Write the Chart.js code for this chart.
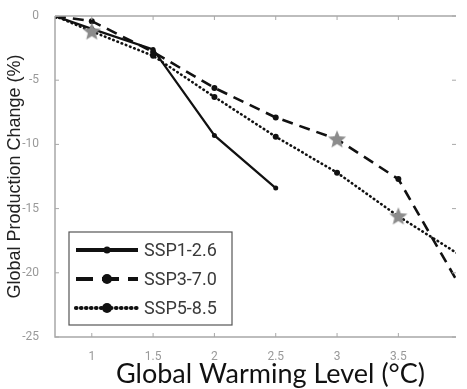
<!DOCTYPE html>
<html><head><meta charset="utf-8">
<script src="https://cdn.jsdelivr.net/npm/chart.js@4.4.1/dist/chart.umd.min.js"></script>
<style>html,body{margin:0;padding:0;background:#fff}</style>
</head><body>
<canvas id="c" width="467" height="389"></canvas>
<script>
// ---- data ----
const warmingLevels = [0.7, 1, 1.5, 2, 2.5, 3, 3.5, 4];
const ssp126 = [0, -1.0, -2.6, -9.3, -13.4, null, null, null];
const ssp370 = [0, -0.4, -2.8, -5.6, -7.9, -9.6, -12.7, -21.0];
const ssp585 = [0, -1.2, -3.1, -6.3, -9.4, -12.2, -15.6, -18.6];
const starX = [1, 3, 3.5];
const starY = [-1.2, -9.6, -15.6];
const xTicks = [1, 1.5, 2, 2.5, 3, 3.5];
const yTicks = [0, -5, -10, -15, -20, -25];
const seriesNames = ['SSP1-2.6', 'SSP3-7.0', 'SSP5-8.5'];
const xTitle = 'Global Warming Level (°C)';
const yTitle = 'Global Production Change (%)';

function pts(xs, ys){ const o=[]; xs.forEach((x,i)=>{ if(ys[i]!==null) o.push({x:x,y:ys[i]}); }); return o; }

// gray filled star marker
const starImg = document.createElement('canvas');
starImg.width = 20; starImg.height = 20;
(function(){
  const g = starImg.getContext('2d');
  g.fillStyle = '#8c8c8c';
  g.beginPath();
  for (let i=0;i<10;i++){
    const r = i%2===0 ? 9.5 : 4.2;
    const a = -Math.PI/2 + i*Math.PI/5;
    const px = 10 + r*Math.cos(a), py = 10.5 + r*Math.sin(a);
    if(i===0) g.moveTo(px,py); else g.lineTo(px,py);
  }
  g.closePath(); g.fill();
})();

const lineStyles = [
  {dash: [], width: 2.2, cap: 'butt', r: 2.5},
  {dash: [11, 7], width: 2.6, cap: 'butt', r: 3},
  {dash: [0.5, 4], width: 2.6, cap: 'round', r: 3}
];
const seriesVals = [ssp126, ssp370, ssp585];

const datasets = seriesVals.map((vals, i) => ({
  label: seriesNames[i],
  data: pts(warmingLevels, vals),
  borderColor: '#111', backgroundColor: '#111',
  borderWidth: lineStyles[i].width,
  borderDash: lineStyles[i].dash,
  borderCapStyle: lineStyles[i].cap,
  pointRadius: lineStyles[i].r, pointHoverRadius: lineStyles[i].r,
  pointBorderWidth: 0,
  tension: 0, order: 2
}));
datasets.push({
  label: 'stars', data: pts(starX, starY), showLine: false,
  pointStyle: starImg, pointRadius: 10, order: 0
});

const frame = {
  id: 'frame',
  afterDatasetsDraw(chart){
    const {ctx, chartArea: a, scales} = chart;
    ctx.save();
    ctx.strokeStyle = '#a8a8a8'; ctx.lineWidth = 1.5;
    ctx.beginPath();
    ctx.moveTo(a.left, a.top); ctx.lineTo(a.right, a.top);
    ctx.moveTo(a.left, a.top); ctx.lineTo(a.left, a.bottom); ctx.lineTo(a.right, a.bottom);
    ctx.stroke();
    ctx.lineWidth = 1;
    ctx.beginPath();
    xTicks.forEach(v => { const px = scales.x.getPixelForValue(v);
      ctx.moveTo(px, a.bottom); ctx.lineTo(px, a.bottom-4);
      ctx.moveTo(px, a.top); ctx.lineTo(px, a.top+4); });
    yTicks.forEach(v => { const py = scales.y.getPixelForValue(v);
      ctx.moveTo(a.left, py); ctx.lineTo(a.left+4, py);
      ctx.moveTo(a.right, py); ctx.lineTo(a.right-4, py); });
    ctx.stroke();

    // x axis title (offset slightly right as in the reference)
    ctx.fillStyle = '#111';
    ctx.font = '27px Lato';
    ctx.textAlign = 'center'; ctx.textBaseline = 'middle';
    ctx.fillText(xTitle, (a.left + a.right) / 2 + 15, a.bottom + 37);

    // legend box
    const L = a.left + 14, T = a.bottom - 105, W = 163, H = 93;
    ctx.fillStyle = '#fff'; ctx.fillRect(L, T, W, H);
    ctx.strokeStyle = '#555'; ctx.lineWidth = 1.2; ctx.strokeRect(L, T, W, H);
    seriesNames.forEach((name, i) => {
      const y = T + 18 + i*29;
      const s = lineStyles[i];
      ctx.strokeStyle = '#111'; ctx.fillStyle = '#111';
      ctx.lineWidth = s.width + 1.6;
      ctx.lineCap = s.cap;
      ctx.setLineDash(i===1 ? [17, 9] : (i===2 ? [0.5, 4.5] : []));
      ctx.beginPath(); ctx.moveTo(L+7, y); ctx.lineTo(L+69, y); ctx.stroke();
      ctx.setLineDash([]);
      ctx.beginPath(); ctx.arc(L+38, y, i===0 ? 3.5 : 5, 0, Math.PI*2); ctx.fill();
      ctx.fillStyle = '#3a3a3a';
      ctx.font = '18px Roboto';
      ctx.textBaseline = 'middle'; ctx.textAlign = 'left';
      ctx.fillText(name, L + 75, y + 1);
    });
    ctx.restore();
  }
};

new Chart(document.getElementById('c'), {
  type: 'line',
  data: { datasets },
  options: {
    responsive: false, animation: false,
    layout: { padding: 0 },
    plugins: { legend: { display: false }, tooltip: { enabled: false } },
    scales: {
      x: {
        type: 'linear', min: 0.7, max: 3.97,
        afterBuildTicks: s => { s.ticks = xTicks.map(v => ({value: v})); },
        afterFit: s => { s.height = 52; },
        grid: { display: false }, border: { display: false },
        ticks: { color: '#999', font: { family: 'Roboto', size: 12 }, padding: 5, maxRotation: 0,
          callback: v => String(v) },
        title: { display: false }
      },
      y: {
        min: -25, max: 0,
        afterBuildTicks: s => { s.ticks = yTicks.map(v => ({value: v})); },
        afterFit: s => { s.width = 55; },
        grid: { display: false }, border: { display: false },
        ticks: { color: '#999', font: { family: 'Roboto', size: 12 }, padding: 8,
          callback: v => String(v) },
        title: { display: true, text: yTitle, color: '#222',
          font: { family: 'Liberation Sans', size: 18 }, padding: { top: 4, bottom: 0 } }
      },
      x2: {
        type: 'linear', position: 'top', min: 0.7, max: 3.97,
        afterFit: s => { s.height = 16; },
        grid: { display: false }, border: { display: false },
        ticks: { display: false }
      }
    }
  },
  plugins: [frame]
});
</script>
</body></html>
